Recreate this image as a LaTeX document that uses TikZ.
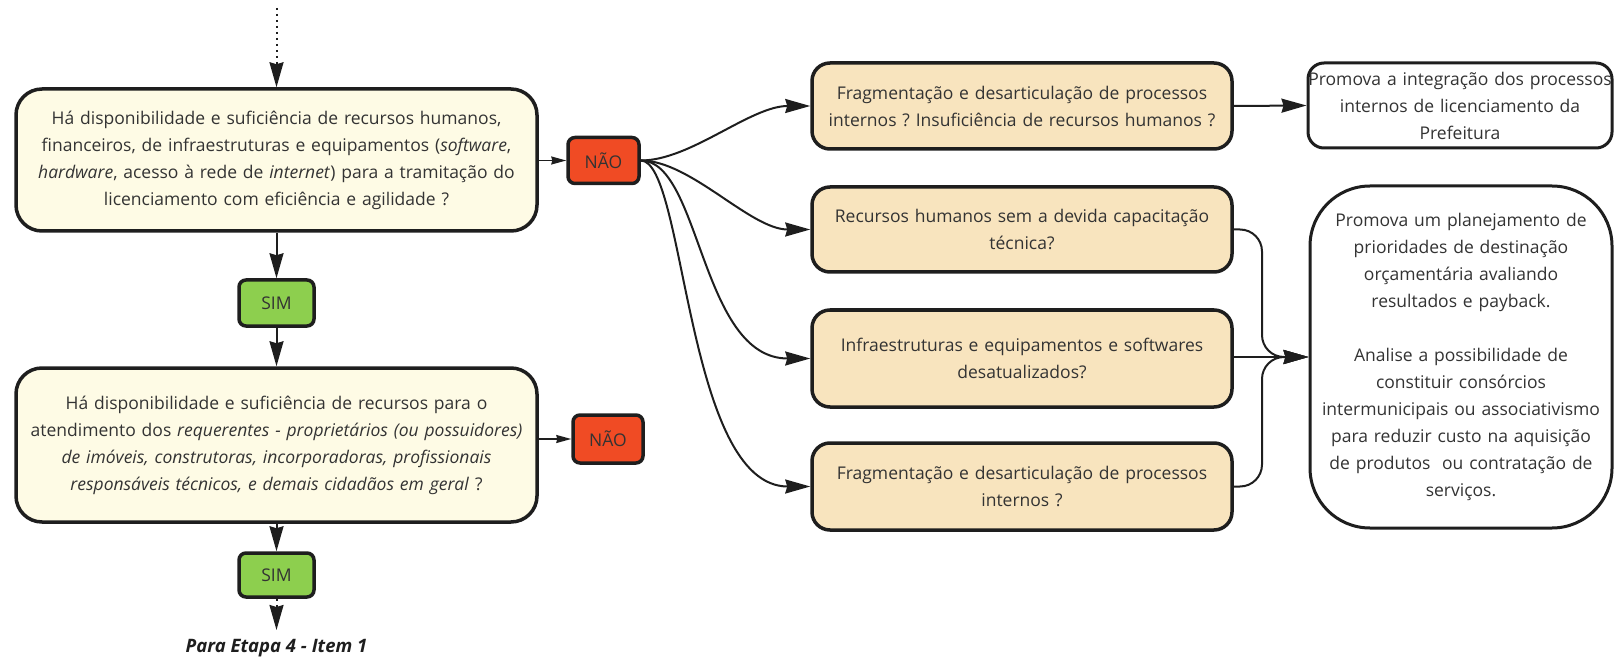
\documentclass[tikz,border=0pt]{standalone}
\usepackage{fontspec}
\setmainfont{Open Sans}
\usetikzlibrary{arrows.meta}
\frenchspacing
\definecolor{qfill}{HTML}{FEFBE5}
\definecolor{pfill}{HTML}{F8E4BE}
\definecolor{simfill}{HTML}{8DCF4E}
\definecolor{naofill}{HTML}{F04B24}
\definecolor{txt}{HTML}{333333}
\definecolor{ln}{HTML}{1E1E1E}
\begin{document}
\begin{tikzpicture}[x=1pt,y=-1pt,
txtfont/.style = {text=txt,font=\fontsize{17.5}{27}\selectfont},
qst/.style = {draw=ln,line width=3.5pt,fill=qfill,rounded corners=26pt,minimum width=521pt,text width=510pt,align=center,inner sep=0pt,txtfont},
ans/.style = {draw=ln,line width=3.5pt,rounded corners=7pt,minimum height=46pt,inner sep=0pt,txtfont},
prob/.style = {draw=ln,line width=3.5pt,fill=pfill,rounded corners=18pt,minimum width=420pt,text width=410pt,align=center,inner sep=0pt,txtfont},
act/.style = {draw=ln,line width=3pt,fill=white,align=center,inner sep=0pt,txtfont},
edge/.style = {line width=2pt,draw=ln,-{Stealth[length=25pt,width=14pt,inset=2pt]}},
small/.style = {line width=1.5pt,draw=ln,-{Stealth[length=15pt,width=8pt,inset=1pt]}},
dots/.style = {dash pattern=on 2pt off 4pt}
]
  \useasboundingbox (0,0) rectangle (1614,660);

  % left column
  \node[qst,minimum height=142pt] (q1) at (276.5,160) {H\'a disponibilidade e sufici\^encia de recursos humanos,\\ financeiros, de infraestruturas e equipamentos (\textit{software},\\ \textit{hardware}, acesso \`a rede de \textit{internet}) para a tramita\c{c}\~ao do\\ licenciamento com efici\^encia e agilidade ?};
  \node[ans,fill=simfill,minimum width=75pt] (sim1) at (276.5,303) {SIM};
  \node[qst,minimum height=154pt] (q2) at (276.5,445) {H\'a disponibilidade e sufici\^encia de recursos para o\\ atendimento dos \textit{requerentes - propriet\'arios (ou possuidores)}\\ \textit{de im\'oveis, construtoras, incorporadoras, profissionais}\\ \textit{respons\'aveis t\'ecnicos, e demais cidad\~aos em geral} ?};
  \node[ans,fill=simfill,minimum width=75pt,minimum height=44pt] (sim2) at (276.5,575) {SIM};
  \node[ans,fill=naofill,minimum width=71pt] (nao1) at (603.5,160.5) {N\~AO};
  \node[ans,fill=naofill,minimum width=70pt,minimum height=48pt] (nao2) at (608,439) {N\~AO};
  \coordinate (top) at (276.5,8);
  \coordinate (nxt) at (276.5,630);
  \node[text=ln,font=\fontsize{18.5}{20}\selectfont\bfseries\itshape] (etapa) at (276.5,648) {Para Etapa 4 - Item 1};

  % problems
  \node[prob,minimum height=86pt] (r1) at (1022,106) {Fragmenta\c{c}\~ao e desarticula\c{c}\~ao de processos\\ internos ? Insufici\^encia de recursos humanos ?};
  \node[prob,minimum height=85pt] (r2) at (1022,229.5) {Recursos humanos sem a devida capacita\c{c}\~ao\\ t\'ecnica?};
  \node[prob,minimum height=97pt] (r3) at (1022,358.5) {Infraestruturas e equipamentos e softwares\\ desatualizados?};
  \node[prob,minimum height=87pt] (r4) at (1022,486.5) {Fragmenta\c{c}\~ao e desarticula\c{c}\~ao de processos\\ internos ?};

  % actions
  \node[act,rounded corners=16pt,minimum width=304pt,minimum height=85pt,text width=296pt] (act1) at (1460,105.5) {\makebox[\linewidth][c]{Promova a integra\c{c}\~ao dos processos}\\ internos de licenciamento da\\ Prefeitura};
  \node[act,rounded corners=60pt,minimum width=302pt,minimum height=342pt,text width=294pt] (act2) at (1461,357) {Promova um planejamento de\\ prioridades de destina\c{c}\~ao\\ or\c{c}ament\'aria avaliando\\ resultados e payback.\\[27pt] Analise a possibilidade de\\ constituir cons\'orcios\\ intermunicipais ou associativismo\\ para reduzir custo na aquisi\c{c}\~ao\\ de produtos\ \ ou contrata\c{c}\~ao de\\ servi\c{c}os.};
  \coordinate (jn1) at (1262,300);
  \coordinate (jn2) at (1262,420);

  \draw[edge,dots] (top) -- (q1.north);
  \draw[edge] (q1.south) -- (sim1.north);
  \draw[edge] (sim1.south) -- (q2.north);
  \draw[edge] (q2.south) -- (sim2.north);
  \draw[edge,dots] (sim2.south) -- (nxt);
  \draw[small] (q1.east |- nao1.west) -- (nao1.west);
  \draw[small] (q2.east |- nao2.west) -- (nao2.west);

  \draw[edge] (nao1.east) .. controls +(50,0) and +(-60,0) .. (r1.west);
  \draw[edge] (nao1.east) .. controls +(50,0) and +(-60,0) .. (r2.west);
  \draw[edge] (nao1.east) .. controls +(60,0) and +(-110,0) .. (r3.west);
  \draw[edge] (nao1.east) .. controls +(45,0) and +(-125,0) .. (r4.west);

  \draw[edge] (r1.east) -- (act1.west);
  \draw[edge,rounded corners=22pt] (r2.east) -| (jn1) |- (act2.west);
  \draw[edge] (r3.east |- act2.west) -- (act2.west);
  \draw[edge,rounded corners=22pt] (r4.east) -| (jn2) |- (act2.west);
\end{tikzpicture}
\end{document}
